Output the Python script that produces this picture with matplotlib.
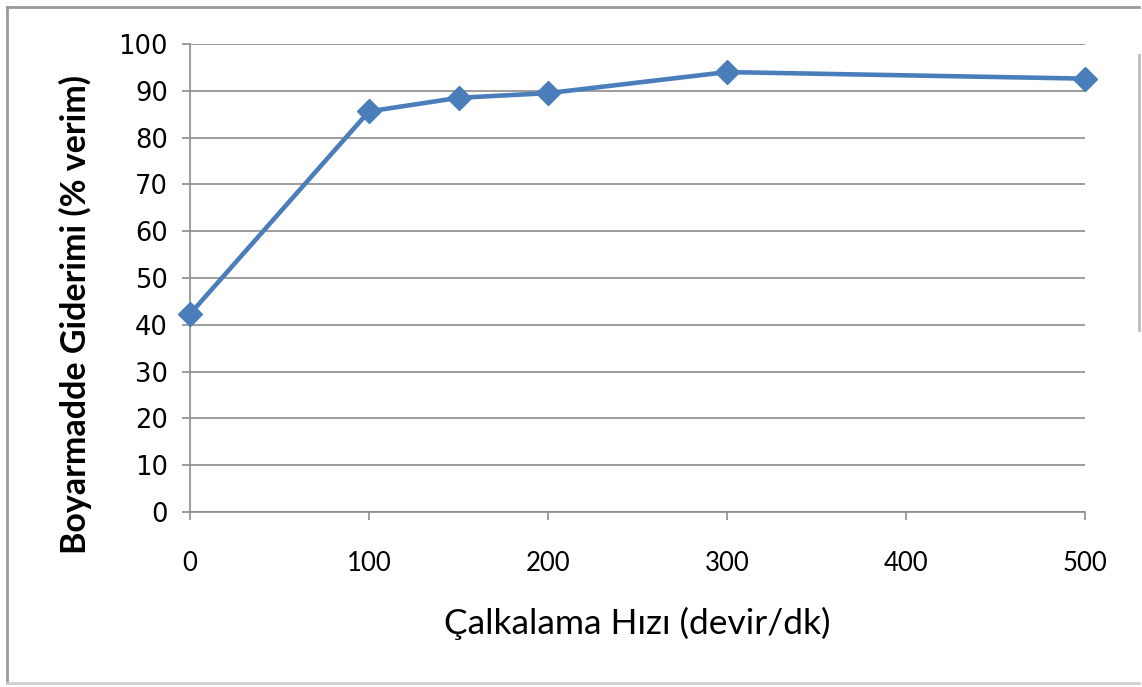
import matplotlib.pyplot as plt
from matplotlib.lines import Line2D

# Shaking speed (rpm) vs dye removal efficiency (%)
speeds = [0, 100, 150, 200, 300, 500]
removal = [42.3, 85.6, 88.5, 89.5, 94.0, 92.6]

x_ticks = [0, 100, 200, 300, 400, 500]
y_ticks = [0, 10, 20, 30, 40, 50, 60, 70, 80, 90, 100]

W, H = 1142, 687
fig = plt.figure(figsize=(W / 100, H / 100), dpi=100)
ax = fig.add_axes([190 / W, 1 - 512 / H, 895 / W, 468 / H])

grid_col = '#8c8c8c'
blue = '#4a7ebb'

ax.plot(speeds, removal, color=blue, lw=3.3, marker='D', markersize=12,
        markerfacecolor=blue, markeredgecolor=blue, zorder=3, clip_on=False)

ax.set_xlim(0, 500)
ax.set_ylim(0, 100)
ax.set_xticks(x_ticks)
ax.set_yticks(y_ticks)
ax.set_xticklabels([str(v) for v in x_ticks], fontfamily='Lato', fontsize=18.5)
ax.set_yticklabels([str(v) for v in y_ticks], fontfamily='DejaVu Sans', fontsize=18.5)

ax.yaxis.grid(True, color=grid_col, lw=1.2)
ax.set_axisbelow(True)
for s in ['top', 'right']:
    ax.spines[s].set_visible(False)
for s in ['left', 'bottom']:
    ax.spines[s].set_color(grid_col)
    ax.spines[s].set_linewidth(1.2)
ax.tick_params(axis='both', direction='out', length=6, width=1.2, color=grid_col)
ax.tick_params(axis='x', pad=22)
ax.tick_params(axis='y', pad=10)

ax.set_xlabel('Çalkalama Hızı (devir/dk)', fontfamily='Lato', fontsize=25.5, labelpad=22)
ax.set_ylabel('Boyarmadde Giderimi (% verim)', fontfamily='Lato', fontweight='bold',
              fontsize=24.5)
ax.yaxis.set_label_coords(-0.109, 0.421)

# outer chart border
frame = '#9a9a9a'
fig.add_artist(Line2D([7 / W, 1139 / W], [1 - 7 / H, 1 - 7 / H], color=frame, lw=2))
fig.add_artist(Line2D([7 / W, 7 / W], [1 - 7 / H, 1 - 683 / H], color=frame, lw=2))
fig.add_artist(Line2D([7 / W, 1139 / W], [1 - 683 / H, 1 - 683 / H], color='#cfcfcf', lw=2))
fig.add_artist(Line2D([1139 / W, 1139 / W], [1 - 55 / H, 1 - 330 / H], color='#bdbdbd', lw=2))

fig.savefig('out.png', dpi=100)
